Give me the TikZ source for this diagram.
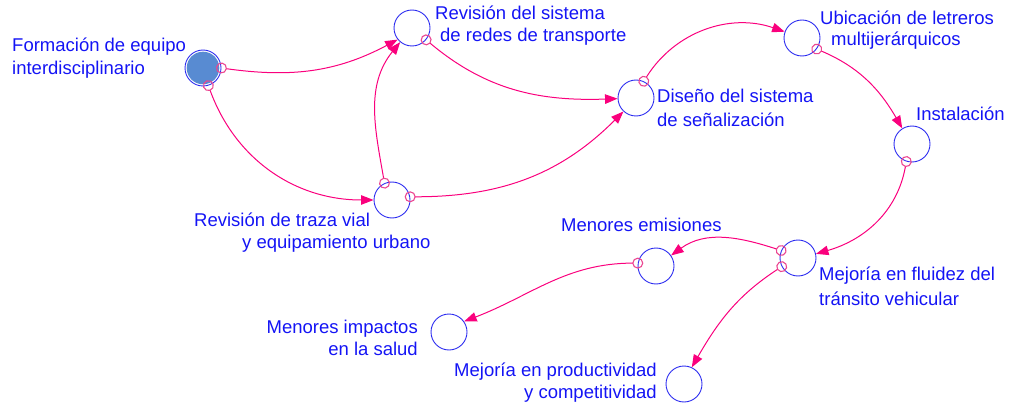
\documentclass[tikz,border=0pt]{standalone}
\usepackage{fontspec}
\setmainfont{Liberation Sans}
\usetikzlibrary{arrows.meta}
\definecolor{nblue}{RGB}{20,20,245}
\definecolor{cblue}{RGB}{45,45,240}
\definecolor{lpink}{RGB}{250,0,125}
\definecolor{cpink}{RGB}{235,70,145}
\definecolor{fblue}{RGB}{88,139,210}
\begin{document}
\begin{tikzpicture}[x=1pt,y=1pt,
  var/.style={circle, draw=cblue, line width=0.9pt, minimum size=36pt, inner sep=0pt},
  lab/.style={text=nblue, inner sep=0pt, font=\fontsize{18.5pt}{23pt}\selectfont},
  link/.style={draw=lpink, line width=1pt,
    {Circle[open,length=11pt,width=11pt,color=cpink,line width=1.1pt]}-{Triangle[length=12.5pt,width=9.5pt]},
    shorten <=-5.5pt}
]
\useasboundingbox (0,0) rectangle (1009,405);

% variables
\node[var, path picture={\fill[fblue] (path picture bounding box.center) circle (16.3pt);}] (F) at (203,337) {};
\node[var] (RS) at (412,377) {};
\node[var] (D)  at (636,307) {};
\node[var] (U)  at (802,367) {};
\node[var] (I)  at (912,261) {};
\node[var] (RT) at (392,205) {};
\node[var] (MF) at (798,147) {};
\node[var] (ME) at (656,139) {};
\node[var] (MI) at (449,73) {};
\node[var] (MP) at (684,21) {};

% labels (base anchor = baseline of the last line)
\node[lab, anchor=base west, align=left] (Flab) at (12,330.5) {Formación de equipo\\interdisciplinario};
\node[lab, anchor=base west, align=left] (RSlab) at (435,363) {Revisión del sistema\\[-1pt]\hspace*{5pt}de redes de transporte};
\node[lab, anchor=base west, align=left] (Dlab) at (657,278) {Diseño del sistema\\[1pt]de señalización};
\node[lab, anchor=base west, align=left] (Ulab) at (820,359) {Ubicación de letreros\\[-2pt]\hspace*{11pt}multijerárquicos};
\node[lab, anchor=base west] (Ilab) at (916,284) {Instalación};
\node[lab, anchor=base west, align=left] (RTlab) at (194,157) {Revisión de traza vial\\[-1pt]\hspace*{48pt}y equipamiento urbano};
\node[lab, anchor=base west] (MElab) at (561,174) {Menores emisiones};
\node[lab, anchor=base west, align=left] (MFlab) at (819,100) {Mejoría en fluidez del\\[2pt]tránsito vehicular};
\node[lab, anchor=base east, align=right] (MIlab) at (418,50) {Menores impactos\\[-1pt]en la salud};
\node[lab, anchor=base east, align=right] (MPlab) at (657,7) {Mejoría en productividad\\[-1pt]y competitividad};

% links
\path[link] (F.0) to[out=-8,in=208] (RS.219);
\path[link] (F.287) to[out=-70,in=180] (RT.180);
\path[link] (RT.114) to[out=100,in=231] (RS.230);
\path[link] (RS.320) to[out=-40,in=182] (D.182);
\path[link] (RT.10) to[out=0,in=225] (D.227);
\path[link] (D.65) to[out=58,in=161] (U.160);
\path[link] (U.323) to[out=-23,in=120] (I.122);
\path[link] (I.252) to[out=260,in=16] (MF.13);
\path[link] (MF.156) to[out=162,in=36] (ME.35);
\path[link] (MF.208) to[out=213,in=60] (MP.65);
\path[link] (ME.171) to[out=180,in=21] (MI.35);
\end{tikzpicture}
\end{document}
